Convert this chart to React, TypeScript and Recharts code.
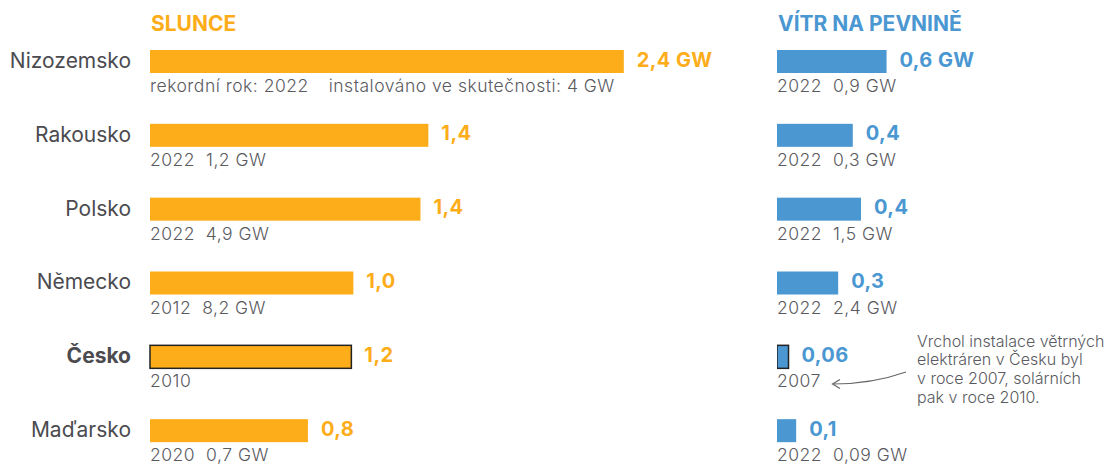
import { BarChart, Bar, XAxis, YAxis } from "recharts";

const countries = ["Nizozemsko", "Rakousko", "Polsko", "Německo", "Česko", "Maďarsko"];

// solar: bar length (GW) and printed value
const solarBar = [2.4, 1.41, 1.37, 1.03, 1.02, 0.8];
const solarLabel = ["2,4 GW", "1,4", "1,4", "1,0", "1,2", "0,8"];
const solarYear = ["rekordní rok: 2022", "2022", "2022", "2012", "2010", "2020"];
const solarInstalled = ["instalováno ve skutečnosti: 4 GW", "1,2 GW", "4,9 GW", "8,2 GW", "", "0,7 GW"];

// onshore wind
const windBar = [0.6, 0.415, 0.46, 0.335, 0.063, 0.105];
const windLabel = ["0,6 GW", "0,4", "0,4", "0,3", "0,06", "0,1"];
const windYear = ["2022", "2022", "2022", "2022", "2007", "2022"];
const windInstalled = ["0,9 GW", "0,3 GW", "1,5 GW", "2,4 GW", "", "0,09 GW"];

const ORANGE = "#FDAD19";
const BLUE = "#4A97D2";
const TEXT = "#4b4b50";
const SUB = "#5a5a5f";
const HIGHLIGHT = "Česko";

const solarData = countries.map((name, i) => ({
  name,
  value: solarBar[i],
  label: solarLabel[i],
  year: solarYear[i],
  installed: solarInstalled[i],
}));

const windData = countries.map((name, i) => ({
  name,
  value: windBar[i],
  label: windLabel[i],
  year: windYear[i],
  installed: windInstalled[i],
}));

function makeShape(color: string, gapFirst: number) {
  return (props: any) => {
    const { x, y, width, height, payload, index } = props;
    const hl = payload.name === HIGHLIGHT;
    const cy = y + height / 2;
    return (
      <g>
        <rect
          x={x}
          y={y}
          width={width}
          height={height}
          fill={color}
          stroke={hl ? "#222" : "none"}
          strokeWidth={hl ? 1.5 : 0}
        />
        <text
          x={x + width + 13}
          y={cy + 5}
          fill={color}
          fontSize={20}
          fontWeight={700}
          letterSpacing={0.4}
        >
          {payload.label}
        </text>
        <text
          x={x}
          y={y + height + 19}
          fill={SUB}
          fontSize={17.5}
          fontWeight={300}
          letterSpacing={0.5}
        >
          <tspan>{payload.year}</tspan>
          {payload.installed && (
            <tspan dx={index === 0 ? gapFirst : 11}>{payload.installed}</tspan>
          )}
        </text>
      </g>
    );
  };
}

const CountryTick = (props: any) => {
  const { y, payload } = props;
  const hl = payload.value === HIGHLIGHT;
  return (
    <text
      x={131}
      y={y + 6}
      textAnchor="end"
      fill={TEXT}
      fontSize={21}
      fontWeight={hl ? 700 : 400}
    >
      {payload.value}
    </text>
  );
};

export default function App() {
  return (
    <div
      style={{
        position: "absolute",
        top: 0,
        left: 0,
        width: 1113,
        height: 466,
        overflow: "hidden",
        background: "#fff",
        fontFamily: "Inter, sans-serif",
      }}
    >
      <div style={{ position: "absolute", left: 0, top: 0 }}>
        <BarChart
          width={762}
          height={468}
          layout="vertical"
          data={solarData}
          margin={{ top: 25, right: 0, bottom: 0, left: 0 }}
        >
          <XAxis type="number" hide domain={[0, 3.1]} />
          <YAxis
            type="category"
            dataKey="name"
            width={150}
            axisLine={false}
            tickLine={false}
            tick={<CountryTick />}
            interval={0}
          />
          <Bar
            dataKey="value"
            barSize={23}
            isAnimationActive={false}
            shape={makeShape(ORANGE, 20)}
          />
        </BarChart>
      </div>
      <div style={{ position: "absolute", left: 777, top: 0 }}>
        <BarChart
          width={336}
          height={468}
          layout="vertical"
          data={windData}
          margin={{ top: 25, right: 0, bottom: 0, left: 0 }}
        >
          <XAxis type="number" hide domain={[0, 1.84]} />
          <YAxis type="category" dataKey="name" hide />
          <Bar
            dataKey="value"
            barSize={23}
            isAnimationActive={false}
            shape={makeShape(BLUE, 11)}
          />
        </BarChart>
      </div>
      <svg
        width={1113}
        height={466}
        style={{ position: "absolute", left: 0, top: 0, pointerEvents: "none" }}
      >
        <text x={151} y={30.5} fill={ORANGE} fontSize={21} fontWeight={700}>
          SLUNCE
        </text>
        <text x={778} y={30.5} fill={BLUE} fontSize={21} fontWeight={700}>
          VÍTR NA PEVNINĚ
        </text>
        <text x={917} y={346.5} fill={SUB} fontSize={16} fontWeight={300}>
          <tspan x={917}>Vrchol instalace větrných</tspan>
          <tspan x={917} dy={18.8}>elektráren v Česku byl</tspan>
          <tspan x={917} dy={18.8}>v roce 2007, solárních</tspan>
          <tspan x={917} dy={18.8}>pak v roce 2010.</tspan>
        </text>
        <path d="M906,372 Q872,384 833,384" fill="none" stroke="#666" strokeWidth={1.2} />
        <path d="M840,379.5 L832.5,384 L840,388.5" fill="none" stroke="#666" strokeWidth={1.2} />
      </svg>
    </div>
  );
}
